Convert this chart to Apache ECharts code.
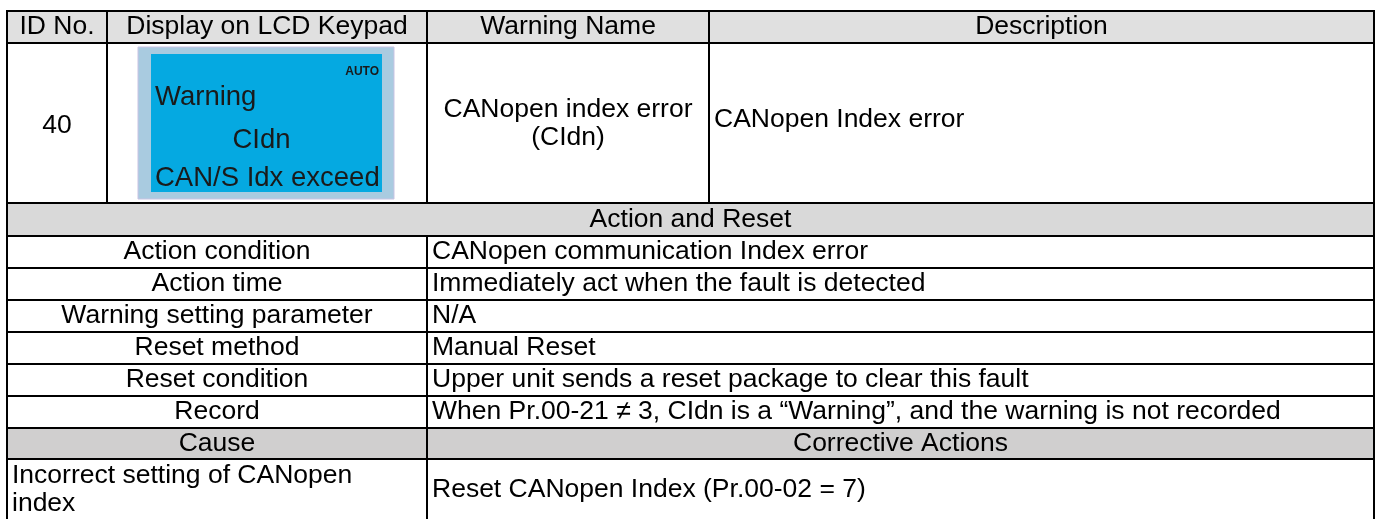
<!DOCTYPE html>
<html><head><meta charset="utf-8">
<script src="https://cdn.jsdelivr.net/npm/echarts@6/dist/echarts.min.js"></script>
<style>html,body{margin:0;padding:0;background:#fff}#chart{width:1384px;height:519px}</style>
</head><body><div id="chart"></div>
<script>
// ---------- content ----------
const headers = ['ID No.', 'Display on LCD Keypad', 'Warning Name', 'Description'];
const idNo = ['40'];
const lcdAuto = 'AUTO';
const lcdLines = ['Warning', 'CIdn', 'CAN/S Idx exceed'];
const warningName = ['CANopen index error', '(CIdn)'];
const description = ['CANopen Index error'];
const sectionTitle = ['Action and Reset'];
const actionLabels = ['Action condition', 'Action time', 'Warning setting parameter', 'Reset method', 'Reset condition', 'Record'];
const actionValues = [
  'CANopen communication Index error',
  'Immediately act when the fault is detected',
  'N/A',
  'Manual Reset',
  'Upper unit sends a reset package to clear this fault',
  'When Pr.00-21 \u2260 3, CIdn is a \u201cWarning\u201d, and the warning is not recorded'
];
const causeHeaders = ['Cause', 'Corrective Actions'];
const causeText = ['Incorrect setting of CANopen', 'index'];
const correctiveText = ['Reset CANopen Index (Pr.00-02 = 7)'];

// ---------- layout ----------
const COLS = [7, 107, 427, 709, 1374];
const ROWS = [11, 43, 203, 236, 268, 300, 332, 364, 396, 428, 459, 521];
const FONT_FAMILY = '"Liberation Sans", Arial, sans-serif';
const FS = 26.5;
const LH = 28;
const GRAY_HEAD = '#e0e0e0';
const GRAY_SECT = '#d9d9d9';
const GRAY_CAUSE = '#d0cfcf';

const cells = [];
function addCell(c0, c1, r, lines, align, fill, extra) {
  cells.push(Object.assign({ c0, c1, r0: r, r1: r + 1, lines, align, fill }, extra || {}));
}
headers.forEach((h, i) => addCell(i, i + 1, 0, [h], 'center', GRAY_HEAD));
addCell(0, 1, 1, idNo, 'center', null, { dy: 3 });
addCell(1, 2, 1, [], 'center', null, { lcd: true });
addCell(2, 3, 1, warningName, 'center', null, { dy: 1 });
addCell(3, 4, 1, description, 'left', null, { dy: -3 });
addCell(0, 4, 2, sectionTitle, 'center', GRAY_SECT);
actionLabels.forEach((l, i) => {
  addCell(0, 2, 3 + i, [l], 'center', null);
  addCell(2, 4, 3 + i, [actionValues[i]], 'left', null);
});
addCell(0, 2, 9, [causeHeaders[0]], 'center', GRAY_CAUSE);
addCell(2, 4, 9, [causeHeaders[1]], 'center', GRAY_CAUSE);
addCell(0, 2, 10, causeText, 'left', null);
addCell(2, 4, 10, correctiveText, 'left', null);

function txt(t, x, y, align, font, fill) {
  return { type: 'text', style: { text: t, x, y, align, verticalAlign: 'middle', textAlign: align, textVerticalAlign: 'middle', font, fill } };
}

function renderItem(params, api) {
  const c = cells[params.dataIndex];
  const p0 = api.coord([COLS[c.c0], ROWS[c.r0]]);
  const p1 = api.coord([COLS[c.c1], ROWS[c.r1]]);
  const x0 = p0[0], y0 = p0[1], x1 = p1[0], y1 = p1[1];
  const ch = [];
  if (c.fill) ch.push({ type: 'rect', shape: { x: x0, y: y0, width: x1 - x0, height: y1 - y0 }, style: { fill: c.fill } });
  if (c.lcd) {
    const ox0 = x0 + 31, ox1 = x1 - 33, oy0 = y0 + 4, oy1 = y1 - 4;
    ch.push({ type: 'rect', shape: { x: ox0, y: oy0, width: ox1 - ox0, height: oy1 - oy0 }, style: { fill: '#a9cbe0', stroke: '#c9c3e3', lineWidth: 1 } });
    const ix0 = ox0 + 13, ix1 = ox1 - 12, iy0 = oy0 + 7, iy1 = oy1 - 7;
    ch.push({ type: 'rect', shape: { x: ix0, y: iy0, width: ix1 - ix0, height: iy1 - iy0 }, style: { fill: '#05a9e1' } });
    const lf = '27.5px ' + FONT_FAMILY;
    ch.push(txt(lcdAuto, ix1 - 3, iy0 + 18, 'right', 'bold 12px ' + FONT_FAMILY, '#1a1a1a'));
    ch.push(txt(lcdLines[0], ix0 + 4, iy0 + 43, 'left', lf, '#1a1a1a'));
    ch.push(txt(lcdLines[1], (ix0 + ix1) / 2 - 5, iy0 + 86, 'center', lf, '#1a1a1a'));
    ch.push(txt(lcdLines[2], ix0 + 4, iy0 + 124, 'left', lf, '#1a1a1a'));
  }
  const n = c.lines.length;
  const cy = (y0 + y1) / 2 + (c.dy || 0);
  c.lines.forEach((t, i) => {
    const ty = cy + (i - (n - 1) / 2) * LH;
    const tx = c.align === 'center' ? (x0 + x1) / 2 : x0 + 5;
    ch.push(txt(t, tx, ty, c.align, FS + 'px ' + FONT_FAMILY, '#000'));
  });
  ch.push({ type: 'rect', shape: { x: x0, y: y0, width: x1 - x0, height: y1 - y0 }, style: { fill: 'none', stroke: '#000', lineWidth: 2 } });
  return { type: 'group', children: ch };
}

const chart = echarts.init(document.getElementById('chart'), null, { renderer: 'canvas' });
chart.setOption({
  animation: false,
  backgroundColor: '#fff',
  grid: { left: 0, right: 0, top: 0, bottom: 0 },
  xAxis: { type: 'value', min: 0, max: 1384, show: false },
  yAxis: { type: 'value', min: 0, max: 519, inverse: true, show: false },
  series: [{
    type: 'custom',
    clip: false,
    renderItem,
    data: cells.map(c => [COLS[c.c0], ROWS[c.r0]])
  }]
});
</script></body></html>
